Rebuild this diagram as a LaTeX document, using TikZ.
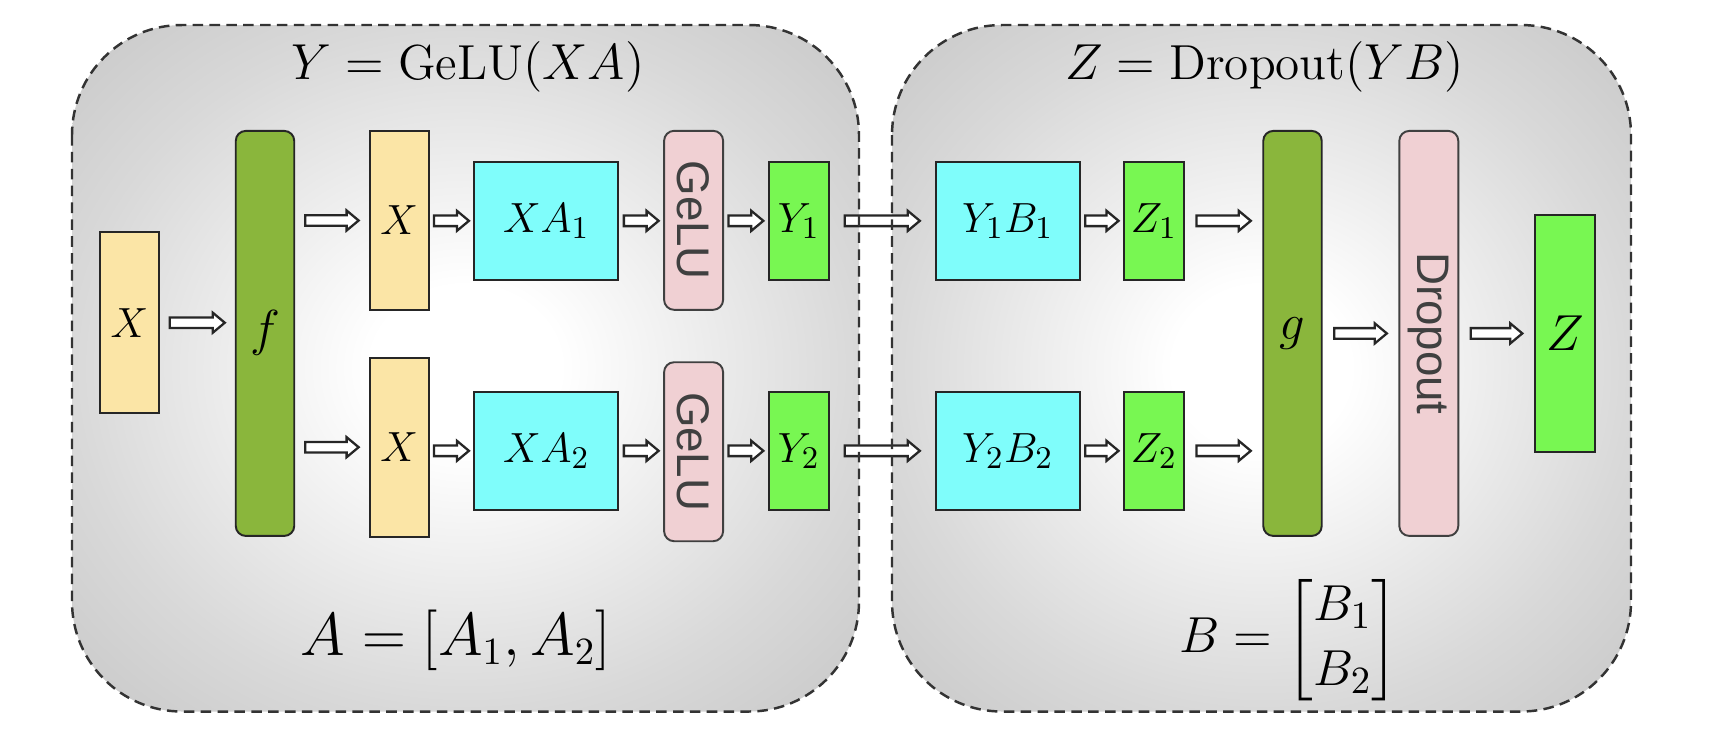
\documentclass[tikz,border=0pt]{standalone}
\usepackage{fontspec}
\setsansfont{Liberation Sans}
\usepackage{amsmath}
\usetikzlibrary{calc, positioning}

\definecolor{xyellow}{RGB}{251,229,166}
\definecolor{fgreen}{RGB}{138,182,60}
\definecolor{mcyan}{RGB}{127,253,251}
\definecolor{ygreen}{RGB}{120,247,82}
\definecolor{gpink}{RGB}{240,208,211}

\pgfdeclareradialshading{panelshade}{\pgfpoint{0bp}{0bp}}{color(0bp)=(white); color(6bp)=(white); color(25bp)=(black!15); color(36bp)=(black!22); color(50bp)=(black!22)}

\begin{document}
\begin{tikzpicture}
    \tikzstyle{panelfill} = [shading=panelshade, rounded corners=1.1cm]
    \tikzstyle{panelline} = [draw=black!80, line width=0.7pt, dash pattern=on 3pt off 1.8pt, rounded corners=1.1cm]
    \tikzstyle{cell} = [rectangle, draw=black!85, line width=0.55pt, inner sep=0pt, font=\fontsize{13}{15}\selectfont]
    \tikzstyle{xbox} = [cell, fill=xyellow, minimum width=0.59cm, minimum height=1.79cm]
    \tikzstyle{tallbox} = [cell, rounded corners=1mm, minimum width=0.585cm, minimum height=4.05cm, font=\fontsize{14.5}{17}\selectfont]
    \tikzstyle{widebox} = [cell, fill=mcyan, minimum width=1.44cm, minimum height=1.18cm]
    \tikzstyle{outbox} = [cell, fill=ygreen, minimum width=0.60cm, minimum height=1.18cm]
    \tikzstyle{actbox} = [cell, draw=black!75, fill=gpink, rounded corners=1mm, text=black!75, minimum width=0.59cm, minimum height=1.79cm]
    \tikzstyle{eqlabel} = [inner sep=0pt, font=\fontsize{14}{17}\selectfont]
    \tikzstyle{biglabel} = [inner sep=0pt, font=\fontsize{16}{19}\selectfont]
    \tikzset{fat/.style={draw=black!85, fill=white, line width=0.65pt, to path={
        let \p1=(\tikztostart), \p2=(\tikztotarget) in
        (\x1+#1,\y1+0.53mm) -- (\x2-#1-1.2mm,\y1+0.53mm) -- (\x2-#1-1.2mm,\y1+1mm) -- (\x2-#1,\y1)
        -- (\x2-#1-1.2mm,\y1-1mm) -- (\x2-#1-1.2mm,\y1-0.53mm) -- (\x1+#1,\y1-0.53mm) -- cycle}},
        fat/.default=0.45mm}

    \useasboundingbox (0,0) rectangle (17.26,-7.32);

    % the two blocks
    \coordinate (lp1) at (0.72,-0.25);
    \coordinate (lp2) at (8.59,-7.115);
    \coordinate (rp1) at (8.92,-0.25);
    \coordinate (rp2) at (16.31,-7.115);
    \shade[panelfill] (lp1) rectangle (lp2);
    \shade[panelfill] (rp1) rectangle (rp2);

    \node (ttl1) [eqlabel] at (4.68,-0.665) {$Y = \mathrm{GeLU}(XA)$};
    \node (ttl2) [eqlabel] at (12.646,-0.665) {$Z = \mathrm{Dropout}(YB)$};
    \node (lblA) [biglabel] at (4.56,-6.40) {$A = [A_1, A_2]$};
    \node (lblB) [biglabel, font=\fontsize{15.5}{18.5}\selectfont] at (12.89,-6.40) {$B = \begin{bmatrix} B_1\\ B_2 \end{bmatrix}$};

    % first layer (column split)
    \node (xin) [xbox, minimum height=1.81cm] at (1.293,-3.227) {$X$};
    \node (f) [tallbox, fill=fgreen] at (2.65,-3.334) {\raisebox{1mm}{$f$}};
    \node (x1) [xbox] at (3.991,-2.205) {$X$};
    \node (x2) [xbox] at (3.991,-4.472) {$X$};
    \node (xa1) [widebox] at (5.464,-2.208) {$XA_1$};
    \node (xa2) [widebox] at (5.464,-4.508) {$XA_2$};
    \node (act1) [actbox] at (6.936,-2.203) {\rotatebox{-90}{\sffamily GeLU}};
    \node (act2) [actbox] at (6.936,-4.517) {\rotatebox{-90}{\sffamily GeLU}};
    \node (y1) [outbox] at (7.988,-2.208) {$Y_1$};
    \node (y2) [outbox] at (7.988,-4.508) {$Y_2$};

    % second layer (row split)
    \node (yb1) [widebox] at (10.078,-2.208) {$Y_1B_1$};
    \node (yb2) [widebox] at (10.078,-4.508) {$Y_2B_2$};
    \node (z1) [outbox] at (11.54,-2.208) {$Z_1$};
    \node (z2) [outbox] at (11.54,-4.508) {$Z_2$};
    \node (g) [tallbox, fill=fgreen] at (12.925,-3.334) {$g$};
    \node (drop) [actbox, minimum height=4.05cm] at (14.288,-3.334) {\rotatebox{-90}{\sffamily Dropout}};
    \node (z) [outbox, minimum height=2.367cm, font=\fontsize{14.5}{17}\selectfont] at (15.648,-3.333) {$Z$};

    \draw [fat=1mm] (xin.east) to (f.west |- xin.east);
    \draw [fat=1mm] (f.east |- x1.west) to (x1.west);
    \draw [fat=1mm] (f.east |- x2.west) to (x2.west);
    \draw [fat] (x1.east |- xa1.west) to (xa1.west);
    \draw [fat] (x2.east |- xa2.west) to (xa2.west);
    \draw [fat] (xa1.east) to (act1.west |- xa1.east);
    \draw [fat] (xa2.east) to (act2.west |- xa2.east);
    \draw [fat] (act1.east |- y1.west) to (y1.west);
    \draw [fat] (act2.east |- y2.west) to (y2.west);
    \draw [fat=1.5mm] (y1.east) to (yb1.west);
    \draw [fat=1.5mm] (y2.east) to (yb2.west);
    \draw [fat] (yb1.east) to (z1.west);
    \draw [fat] (yb2.east) to (z2.west);
    \draw [fat=1.15mm] (z1.east) to (g.west |- z1.east);
    \draw [fat=1.15mm] (z2.east) to (g.west |- z2.east);
    \draw [fat=1.15mm] (g.east) to (drop.west);
    \draw [fat=1.15mm] (drop.east) to (z.west);

    \draw[panelline] (lp1) rectangle (lp2);
    \draw[panelline] (rp1) rectangle (rp2);
\end{tikzpicture}
\end{document}
